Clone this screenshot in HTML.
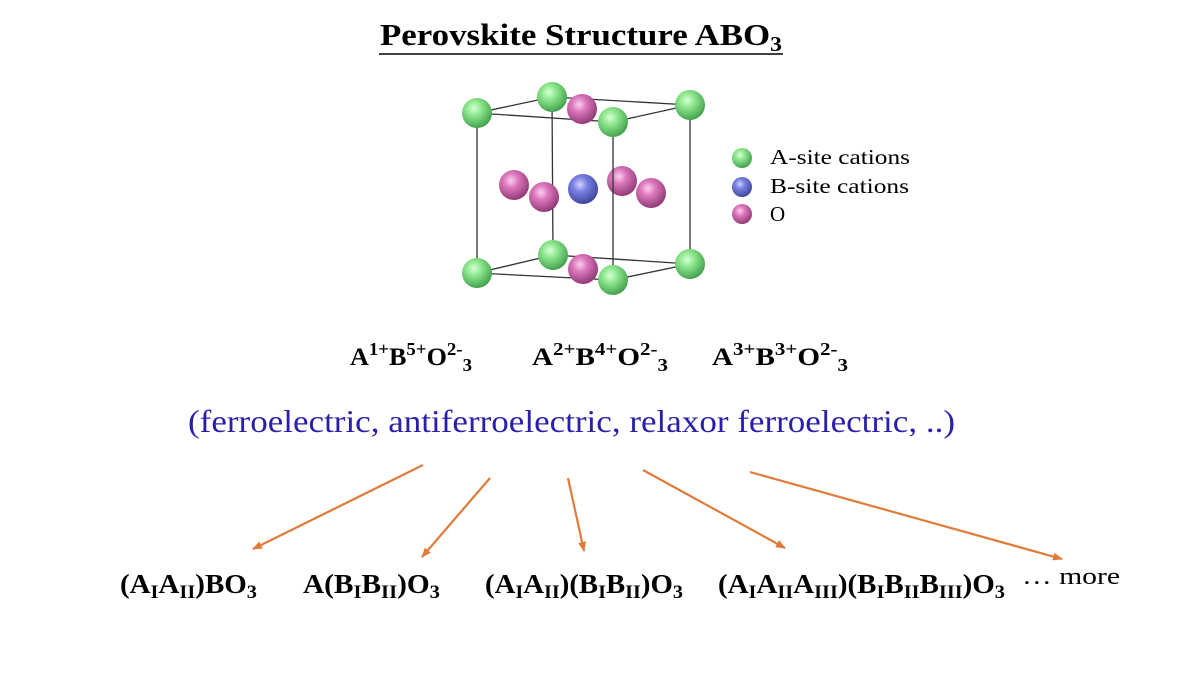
<!DOCTYPE html>
<html><head><meta charset="utf-8"><style>body{margin:0;background:#fff}svg{display:block}</style></head><body>
<svg width="1200" height="675" viewBox="0 0 1200 675" xmlns="http://www.w3.org/2000/svg" font-family="Liberation Serif, serif">
<defs>
<radialGradient id="g" cx="0.4" cy="0.35" r="0.7"><stop offset="0" stop-color="#d8ffd8"/><stop offset="0.35" stop-color="#8ee88e"/><stop offset="1" stop-color="#3e9a48"/></radialGradient>
<radialGradient id="p" cx="0.4" cy="0.35" r="0.7"><stop offset="0" stop-color="#fbd0ec"/><stop offset="0.35" stop-color="#dc78bc"/><stop offset="1" stop-color="#8a3470"/></radialGradient>
<radialGradient id="b" cx="0.4" cy="0.35" r="0.7"><stop offset="0" stop-color="#d0d4ff"/><stop offset="0.35" stop-color="#7a80e0"/><stop offset="1" stop-color="#3a3f98"/></radialGradient>
<marker id="ah" markerWidth="10" markerHeight="8" refX="9" refY="4" orient="auto" markerUnits="userSpaceOnUse"><path d="M0,0 L10,4 L0,8 Z" fill="#e07b39"/></marker>
</defs>
<text x="380" y="45" font-size="31" font-weight="bold" textLength="402" lengthAdjust="spacingAndGlyphs">Perovskite Structure ABO<tspan font-size="21" dy="6">3</tspan></text>
<line x1="379" y1="54" x2="783" y2="54" stroke="#000" stroke-width="1.5"/>
<g stroke="#333" stroke-width="1.3" fill="none">
<polygon points="477,113 552,97 690,105 613,122"/>
<polygon points="477,273 553,255 690,264 613,280"/>
<line x1="477" y1="113" x2="477" y2="273"/><line x1="552" y1="97" x2="553" y2="255"/>
<line x1="690" y1="105" x2="690" y2="264"/>
</g>
<circle cx="552" cy="97" r="15" fill="url(#g)"/>
<circle cx="553" cy="255" r="15" fill="url(#g)"/>
<circle cx="514" cy="185" r="15" fill="url(#p)"/>
<circle cx="583" cy="189" r="15" fill="url(#b)"/>
<circle cx="622" cy="181" r="15" fill="url(#p)"/>
<circle cx="582" cy="109" r="15" fill="url(#p)"/>
<circle cx="583" cy="269" r="15" fill="url(#p)"/>
<circle cx="477" cy="113" r="15" fill="url(#g)"/>
<circle cx="690" cy="105" r="15" fill="url(#g)"/>
<circle cx="477" cy="273" r="15" fill="url(#g)"/>
<circle cx="690" cy="264" r="15" fill="url(#g)"/>
<line x1="613" y1="122" x2="613" y2="280" stroke="#333" stroke-width="1.3"/>
<circle cx="544" cy="197" r="15" fill="url(#p)"/>
<circle cx="651" cy="193" r="15" fill="url(#p)"/>
<circle cx="613" cy="122" r="15" fill="url(#g)"/>
<circle cx="613" cy="280" r="15" fill="url(#g)"/>
<circle cx="742" cy="158" r="10" fill="url(#g)"/>
<circle cx="742" cy="187" r="10" fill="url(#b)"/>
<circle cx="742" cy="214" r="10" fill="url(#p)"/>
<g font-size="21"><text x="770" y="164" textLength="140" lengthAdjust="spacingAndGlyphs">A-site cations</text><text x="770" y="193" textLength="139" lengthAdjust="spacingAndGlyphs">B-site cations</text><text x="770" y="221">O</text></g>
<g font-size="25" font-weight="bold">
<text x="350" y="365" textLength="122" lengthAdjust="spacingAndGlyphs">A<tspan font-size="18" dy="-10">1+</tspan><tspan dy="10">B</tspan><tspan font-size="18" dy="-10">5+</tspan><tspan dy="10">O</tspan><tspan font-size="18" dy="-10">2-</tspan><tspan font-size="18" dy="16">3</tspan></text>
<text x="532" y="365" textLength="136" lengthAdjust="spacingAndGlyphs">A<tspan font-size="18" dy="-10">2+</tspan><tspan dy="10">B</tspan><tspan font-size="18" dy="-10">4+</tspan><tspan dy="10">O</tspan><tspan font-size="18" dy="-10">2-</tspan><tspan font-size="18" dy="16">3</tspan></text>
<text x="712" y="365" textLength="136" lengthAdjust="spacingAndGlyphs">A<tspan font-size="18" dy="-10">3+</tspan><tspan dy="10">B</tspan><tspan font-size="18" dy="-10">3+</tspan><tspan dy="10">O</tspan><tspan font-size="18" dy="-10">2-</tspan><tspan font-size="18" dy="16">3</tspan></text>
</g>
<text x="188" y="432" font-size="32" fill="#2a1fa8" textLength="767" lengthAdjust="spacingAndGlyphs">(ferroelectric, antiferroelectric, relaxor ferroelectric, ..)</text>
<g stroke="#e07b39" stroke-width="2.2" marker-end="url(#ah)">
<line x1="423" y1="465" x2="253" y2="549"/>
<line x1="490" y1="478" x2="422" y2="557"/>
<line x1="568" y1="478" x2="584" y2="551"/>
<line x1="643" y1="470" x2="785" y2="548"/>
<line x1="750" y1="472" x2="1062" y2="559"/>
</g>
<g font-size="27" font-weight="bold">
<text x="120" y="593" textLength="137" lengthAdjust="spacingAndGlyphs">(A<tspan font-size="19" dy="5">I</tspan><tspan dy="-5">A</tspan><tspan font-size="19" dy="5">II</tspan><tspan dy="-5">)BO</tspan><tspan font-size="19" dy="5">3</tspan></text>
<text x="303" y="593" textLength="137" lengthAdjust="spacingAndGlyphs">A(B<tspan font-size="19" dy="5">I</tspan><tspan dy="-5">B</tspan><tspan font-size="19" dy="5">II</tspan><tspan dy="-5">)O</tspan><tspan font-size="19" dy="5">3</tspan></text>
<text x="485" y="593" textLength="198" lengthAdjust="spacingAndGlyphs">(A<tspan font-size="19" dy="5">I</tspan><tspan dy="-5">A</tspan><tspan font-size="19" dy="5">II</tspan><tspan dy="-5">)(B</tspan><tspan font-size="19" dy="5">I</tspan><tspan dy="-5">B</tspan><tspan font-size="19" dy="5">II</tspan><tspan dy="-5">)O</tspan><tspan font-size="19" dy="5">3</tspan></text>
<text x="718" y="593" textLength="287" lengthAdjust="spacingAndGlyphs">(A<tspan font-size="19" dy="5">I</tspan><tspan dy="-5">A</tspan><tspan font-size="19" dy="5">II</tspan><tspan dy="-5">A</tspan><tspan font-size="19" dy="5">III</tspan><tspan dy="-5">)(B</tspan><tspan font-size="19" dy="5">I</tspan><tspan dy="-5">B</tspan><tspan font-size="19" dy="5">II</tspan><tspan dy="-5">B</tspan><tspan font-size="19" dy="5">III</tspan><tspan dy="-5">)O</tspan><tspan font-size="19" dy="5">3</tspan></text>
</g>
<text x="1022" y="584" font-size="24" textLength="98" lengthAdjust="spacingAndGlyphs">… more</text>
</svg>
</body></html>
